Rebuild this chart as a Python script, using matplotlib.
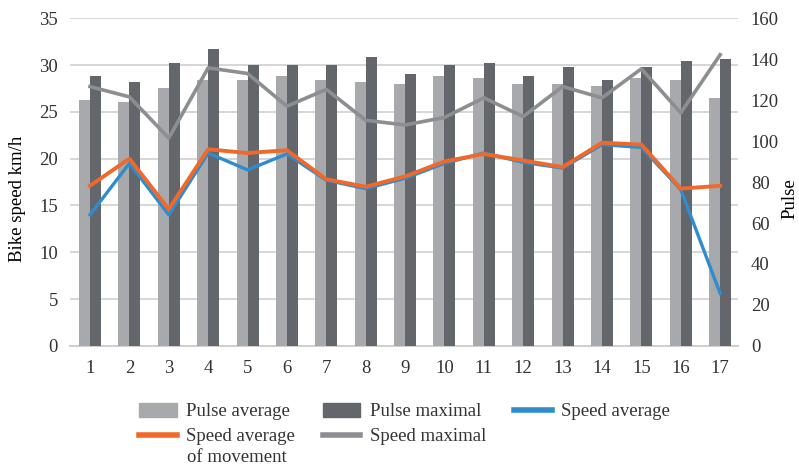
import numpy as np
import matplotlib.pyplot as plt
from matplotlib.patches import Patch
from matplotlib.lines import Line2D

plt.rcParams['font.family'] = ['Liberation Serif', 'DejaVu Serif']

# data
days = [str(i) for i in range(1, 18)]
pulse_avg = [120, 119, 126, 130, 130, 132, 130, 129, 128, 132, 131, 128, 128, 127, 131, 130, 121]
pulse_max = [132, 129, 138, 145, 137, 137, 137, 141, 133, 137, 138, 132, 136, 130, 136, 139, 140]
speed_avg = [14.0, 19.5, 14.0, 20.6, 18.8, 20.5, 17.7, 16.8, 17.9, 19.5, 20.6, 19.6, 19.0, 21.5, 21.2, 16.7, 5.6]
speed_mov = [17.1, 20.0, 14.6, 21.0, 20.6, 20.9, 17.8, 17.0, 18.1, 19.7, 20.5, 19.8, 19.1, 21.7, 21.5, 16.8, 17.1]
speed_max = [27.7, 26.6, 22.2, 29.7, 29.1, 25.6, 27.4, 24.1, 23.6, 24.4, 26.5, 24.5, 27.7, 26.5, 29.6, 24.9, 31.1]

c_light = '#a8a9ad'
c_dark = '#63676c'
c_blue = '#2f8ccd'
c_orange = '#f0692a'
c_gray = '#8d8e92'
fs = 13.5

fig = plt.figure(figsize=(7.99, 4.68), dpi=100)
ax = fig.add_axes([0.088, 0.261, 0.836, 0.700])
x = np.arange(len(days))

# host axis: speed scale + grid
ax.set_ylim(0, 35)
ax.set_yticks(range(0, 36, 5))
ax.set_xlim(-0.5, len(days) - 0.54)
ax.set_xticks(x)
ax.set_xticklabels(days)
ax.grid(axis='y', color='#d6d6d6', lw=1.4)
ax.set_axisbelow(True)
ax.set_ylabel('Bike speed km/h', fontsize=fs)
ax.yaxis.set_label_coords(-0.066, 0.45)

# bars on pulse axis
ax2 = ax.twinx()
w = 0.28
ax2.bar(x - w / 2, pulse_avg, w, color=c_light)
ax2.bar(x + w / 2, pulse_max, w, color=c_dark)
ax2.set_ylim(0, 160)
ax2.set_yticks(range(0, 161, 20))
ax2.set_ylabel('Pulse', fontsize=fs)
ax2.yaxis.set_label_coords(1.065, 0.45)

# lines on speed scale, above bars
ax3 = ax.twinx()
ax3.set_ylim(0, 35)
ax3.plot(x, speed_max, color=c_gray, lw=2.6)
ax3.plot(x, speed_avg, color=c_blue, lw=2.4)
ax3.plot(x, speed_mov, color=c_orange, lw=2.8)
ax3.axis('off')

for a in (ax, ax2, ax3):
    for s in a.spines.values():
        s.set_visible(False)
    a.tick_params(length=0, labelsize=fs, colors='#333333')
ax.spines['bottom'].set_visible(True)
ax.spines['bottom'].set_color('#cfcfcf')
ax.spines['bottom'].set_linewidth(1.4)
ax.tick_params(axis='x', pad=10)
ax.tick_params(axis='y', pad=9)
ax2.tick_params(axis='y', pad=9)

handles = [Patch(color=c_light), Line2D([], [], color=c_orange, lw=4),
           Patch(color=c_dark), Line2D([], [], color=c_gray, lw=4),
           Line2D([], [], color=c_blue, lw=4)]
labels = ['Pulse average', 'Speed average',
          'Pulse maximal', 'Speed maximal', 'Speed average']
leg = fig.legend(handles, labels, ncol=3, loc='upper left', bbox_to_anchor=(0.174, 0.139),
                 frameon=False, fontsize=fs, handlelength=2.0, handleheight=0.75,
                 columnspacing=1.5, labelspacing=0.4, handletextpad=0.5,
                 borderpad=0, borderaxespad=0)
fig.text(0.234, 0.0214, 'of movement', fontsize=fs, color='#333333', va='center')
for t in leg.get_texts():
    t.set_color('#333333')

fig.savefig('out.png', dpi=100)
